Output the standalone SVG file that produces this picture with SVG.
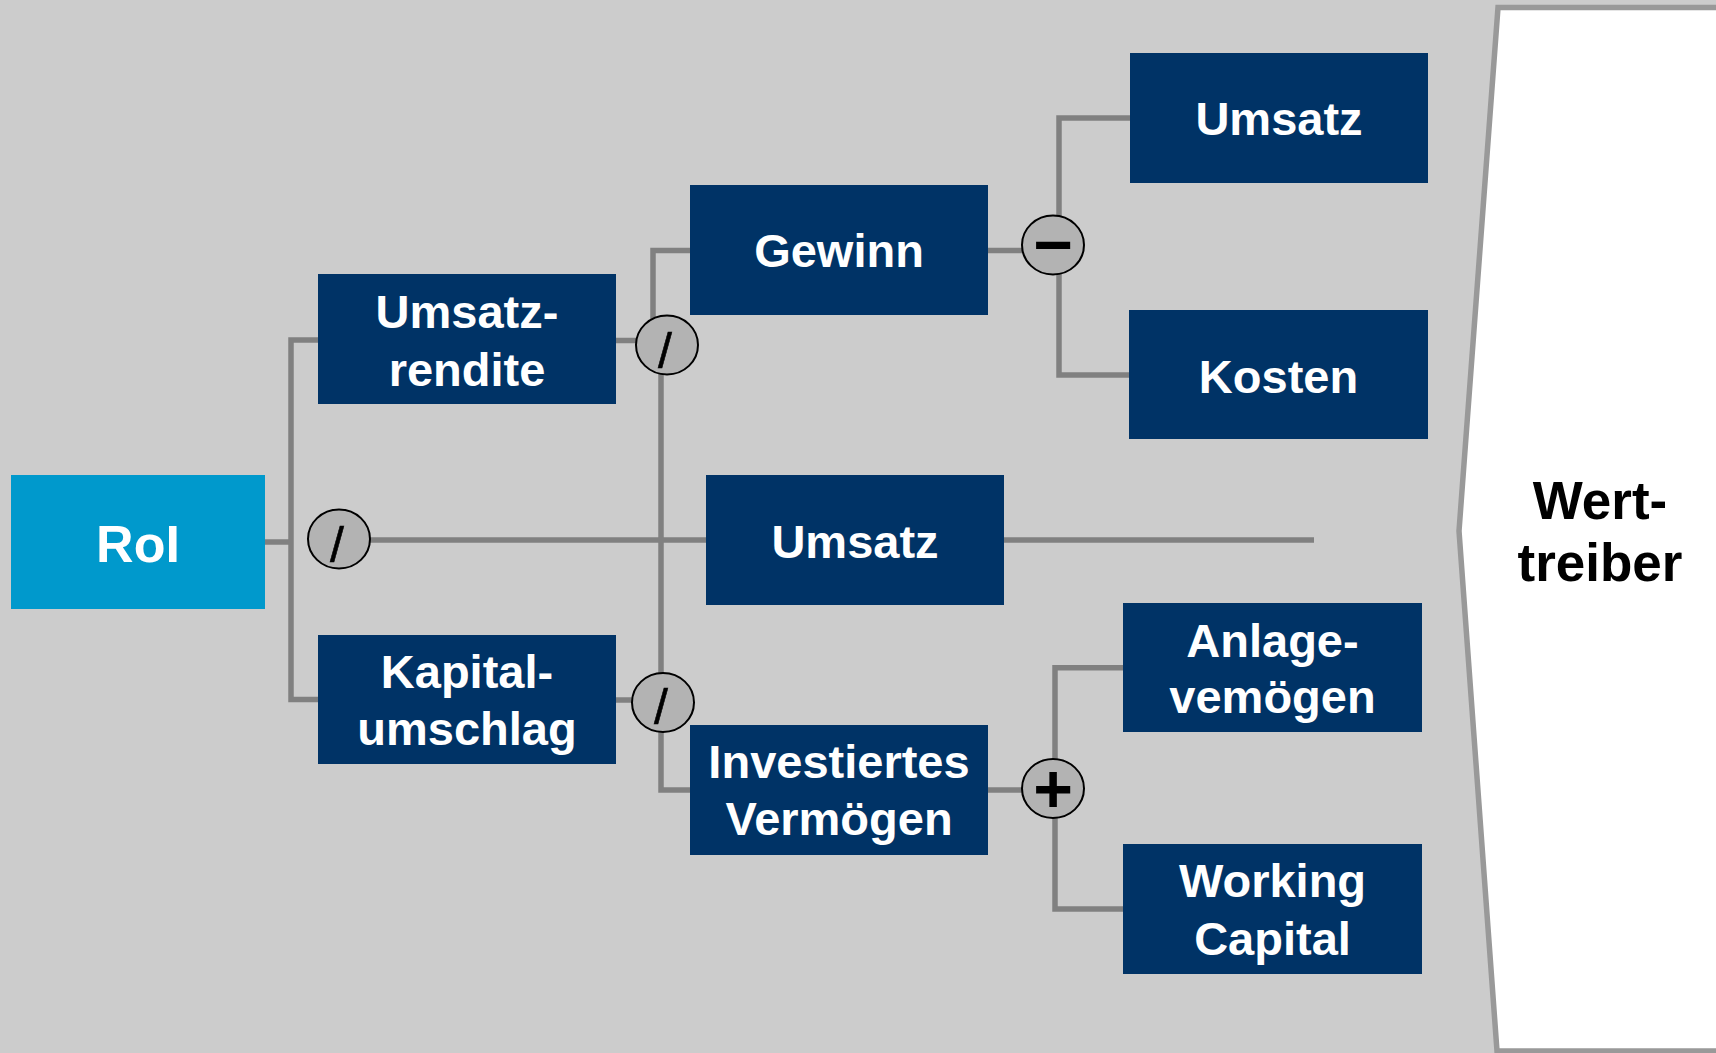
<svg xmlns="http://www.w3.org/2000/svg" width="1716" height="1053" viewBox="0 0 1716 1053">
<style>
.box{fill:#003366}
.roi{fill:#0099CC}
.t{font-family:"Liberation Sans",Arial,sans-serif;font-weight:bold;font-size:47px;fill:#FFFFFF;text-anchor:middle}
.conn{fill:none;stroke:#808080;stroke-width:5.5}
.op{fill:#B3B3B3;stroke:#000000;stroke-width:2}
.sl{font-family:"Liberation Sans",Arial,sans-serif;font-size:50px;fill:#000000;text-anchor:middle;stroke:#000000;stroke-width:0.6}
.pm{font-family:"Liberation Sans",Arial,sans-serif;font-weight:bold;font-size:68px;fill:#000000;text-anchor:middle}
.wt{font-family:"Liberation Sans",Arial,sans-serif;font-weight:bold;font-size:53px;fill:#000000;text-anchor:middle}
</style>
<rect x="0" y="0" width="1716" height="1053" fill="#CCCCCC"/>
<g id="panel">
<polygon points="1498,7.5 1730,7.5 1730,1051 1497,1051 1459,531" fill="#FFFFFF" stroke="#999999" stroke-width="5.5"/>
<text class="wt" x="1600" y="519">Wert-</text>
<text class="wt" x="1600" y="581">treiber</text>
</g>
<g id="connectors">
<path class="conn" d="M265,542 H291"/>
<path class="conn" d="M318,340 H291 V699.5 H318"/>
<path class="conn" d="M370,540 H1314"/>
<path class="conn" d="M616,340.5 H640"/>
<path class="conn" d="M653,322 V250.5 H690"/>
<path class="conn" d="M661,370 V790 H690"/>
<path class="conn" d="M616,700 H636"/>
<path class="conn" d="M988,250.5 H1025"/>
<path class="conn" d="M1059,220 V118 H1130"/>
<path class="conn" d="M1059,270 V375 H1129"/>
<path class="conn" d="M988,790 H1025"/>
<path class="conn" d="M1055,762 V667.7 H1123"/>
<path class="conn" d="M1055,814 V909 H1123"/>
</g>
<g id="op-roi">
<ellipse class="op" cx="339" cy="539" rx="31" ry="29.5"/>
<text class="sl" x="337" y="562">/</text>
</g>
<g id="op-umsatzrendite">
<ellipse class="op" cx="667" cy="345" rx="31" ry="29.5"/>
<text class="sl" x="665" y="368">/</text>
</g>
<g id="op-kapitalumschlag">
<ellipse class="op" cx="663" cy="702.5" rx="31" ry="29.5"/>
<text class="sl" x="661" y="724">/</text>
</g>
<g id="op-gewinn">
<ellipse class="op" cx="1053" cy="245" rx="31" ry="29.5"/>
<text class="pm" x="1053" y="268">−</text>
</g>
<g id="op-vermoegen">
<ellipse class="op" cx="1053" cy="788.5" rx="31" ry="29.5"/>
<text class="pm" x="1053" y="811.5">+</text>
</g>
<g id="node-roi">
<rect class="roi" x="11" y="475" width="254" height="134"/>
<text class="t" x="138" y="562" style="font-size:52px">RoI</text>
</g>
<g id="node-umsatzrendite">
<rect class="box" x="318" y="274" width="298" height="130"/>
<text class="t" x="467" y="328">Umsatz-</text>
<text class="t" x="467" y="386">rendite</text>
</g>
<g id="node-kapitalumschlag">
<rect class="box" x="318" y="635" width="298" height="129"/>
<text class="t" x="467" y="688">Kapital-</text>
<text class="t" x="467" y="745">umschlag</text>
</g>
<g id="node-gewinn">
<rect class="box" x="690" y="185" width="298" height="130"/>
<text class="t" x="839" y="267">Gewinn</text>
</g>
<g id="node-umsatz-mid">
<rect class="box" x="706" y="475" width="298" height="130"/>
<text class="t" x="855" y="557.5">Umsatz</text>
</g>
<g id="node-investiertes">
<rect class="box" x="690" y="725" width="298" height="130"/>
<text class="t" x="839" y="778">Investiertes</text>
<text class="t" x="839" y="835">Vermögen</text>
</g>
<g id="node-umsatz-top">
<rect class="box" x="1130" y="53" width="298" height="130"/>
<text class="t" x="1279" y="135">Umsatz</text>
</g>
<g id="node-kosten">
<rect class="box" x="1129" y="310" width="299" height="129"/>
<text class="t" x="1278.5" y="392.5">Kosten</text>
</g>
<g id="node-anlage">
<rect class="box" x="1123" y="603" width="299" height="129"/>
<text class="t" x="1272.5" y="656.5">Anlage-</text>
<text class="t" x="1272.5" y="713">vemögen</text>
</g>
<g id="node-working">
<rect class="box" x="1123" y="844" width="299" height="130"/>
<text class="t" x="1272.5" y="897">Working</text>
<text class="t" x="1272.5" y="955">Capital</text>
</g>
</svg>
